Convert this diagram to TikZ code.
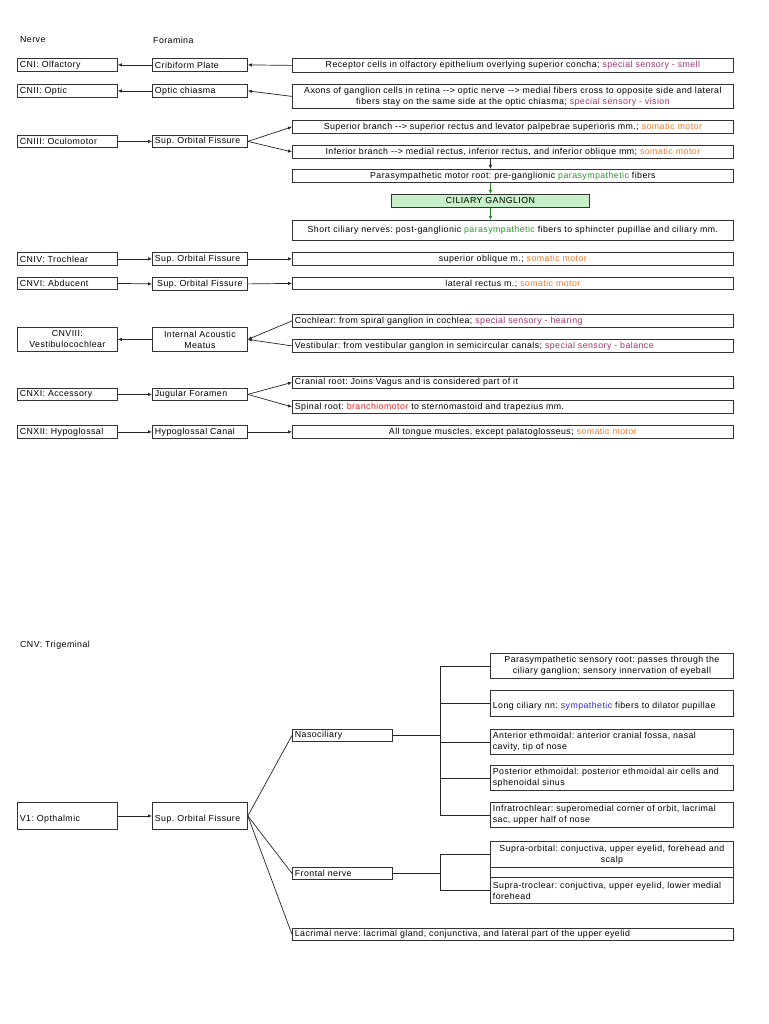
\documentclass[tikz,border=0pt]{standalone}
\usepackage{fontspec}
\setmainfont{Liberation Sans}[LetterSpace=5]
\usetikzlibrary{arrows.meta}
\definecolor{spsc}{RGB}{160,50,110}
\definecolor{somc}{RGB}{240,120,40}
\definecolor{psyc}{RGB}{40,150,40}
\definecolor{brmc}{RGB}{240,30,30}
\definecolor{symc}{RGB}{40,40,230}
\definecolor{cgfill}{RGB}{200,240,200}
\definecolor{garr}{RGB}{30,130,30}
\newcommand\sps[1]{\textcolor{spsc}{#1}}
\newcommand\som[1]{\textcolor{somc}{#1}}
\newcommand\psy[1]{\textcolor{psyc}{#1}}
\newcommand\brm[1]{\textcolor{brmc}{#1}}
\newcommand\sym[1]{\textcolor{symc}{#1}}
\newcommand\arw{-{}->}
\newcommand\bx[7]{\pgfmathsetmacro\tw{#4-5}\node[box, minimum width=#4pt, minimum height=#5pt, text width=\tw pt, align=#6] (#1) at (#2,#3) {#7};}
\tikzset{
  box/.style={draw=black!80, line width=0.8pt, inner xsep=2pt, inner ysep=0pt, anchor=north west},
  lbl/.style={inner sep=0pt, anchor=west},
  arr/.style={-{Latex[length=4pt,width=3.5pt]}, line width=0.7pt, draw=black!85},
  garrow/.style={-{Latex[length=4pt,width=3.5pt]}, line width=0.7pt, draw=garr},
  ln/.style={line width=0.7pt, draw=black!85},
}
\frenchspacing
\begin{document}
\begin{tikzpicture}[x=1pt,y=-1pt,font=\fontsize{8.8}{11}\selectfont\frenchspacing]
\useasboundingbox[fill=white] (0,0) rectangle (768,1024);
\node[lbl] (hnerve) at (20,40) {Nerve};
\node[lbl] (hfor) at (153,40) {Foramina};
% CNI
\bx{n1}{17}{58}{100}{13}{left}{CNI: Olfactory}
\bx{f1}{152}{58}{95}{13}{left}{Cribiform Plate}
\bx{r1}{292}{58}{441}{14}{center}{Receptor cells in olfactory epithelium overlying superior concha; \sps{special sensory - smell}}
% CNII
\bx{n2}{17}{84}{100}{13}{left}{CNII: Optic}
\bx{f2}{152}{84}{95}{13}{left}{Optic chiasma}
\bx{r2}{292}{84}{441}{24}{center}{Axons of ganglion cells in retina \arw{} optic nerve \arw{} medial fibers cross to opposite side and lateral\\ fibers stay on the same side at the optic chiasma; \sps{special sensory - vision}}
% CNIII
\bx{n3}{17}{135}{100}{12}{left}{CNIII: Oculomotor}
\bx{f3}{152}{135}{95}{12}{left}{Sup. Orbital Fissure}
\bx{r3a}{292}{120}{441}{13}{center}{Superior branch \arw{} superior rectus and levator palpebrae superioris mm.; \som{somatic motor}}
\bx{r3b}{292}{145}{441}{13}{center}{Inferior branch \arw{} medial rectus, inferior rectus, and inferior oblique mm; \som{somatic motor}}
\bx{r3c}{292}{169}{441}{13}{center}{Parasympathetic motor root: pre-ganglionic \psy{parasympathetic} fibers}
\node[box, fill=cgfill, minimum width=198pt, minimum height=13pt, align=center] (cg) at (391,194) {CILIARY GANGLION};
\bx{r3d}{292}{220}{441}{20}{center}{Short ciliary nerves: post-ganglionic \psy{parasympathetic} fibers to sphincter pupillae and ciliary mm.}
% CNIV
\bx{n4}{17}{252}{100}{13}{left}{CNIV: Trochlear}
\bx{f4}{152}{252}{95}{13}{left}{Sup. Orbital Fissure}
\bx{r4}{292}{252}{441}{13}{center}{superior oblique m.; \som{somatic motor}}
% CNVI
\bx{n6}{17}{277}{100}{12}{left}{CNVI: Abducent}
\bx{f6}{152}{277}{95}{13}{center}{Sup. Orbital Fissure}
\bx{r6}{292}{277}{441}{12}{center}{lateral rectus m.; \som{somatic motor}}
% CNVIII
\bx{n8}{17}{327}{100}{24}{center}{CNVIII:\\ Vestibulocochlear}
\bx{f8}{152}{327}{95}{24}{center}{Internal Acoustic\\ Meatus}
\bx{r8a}{292}{314}{441}{13}{left}{Cochlear: from spiral ganglion in cochlea; \sps{special sensory - hearing}}
\bx{r8b}{292}{339}{441}{13}{left}{Vestibular: from vestibular ganglon in semicircular canals; \sps{special sensory - balance}}
% CNXI
\bx{n11}{17}{388}{100}{12}{left}{CNXI: Accessory}
\bx{f11}{152}{388}{95}{12}{left}{Jugular Foramen}
\bx{r11a}{292}{376}{441}{12}{left}{Cranial root: Joins Vagus and is considered part of it}
\bx{r11b}{292}{400}{441}{13}{left}{Spinal root: \brm{branchiomotor} to sternomastoid and trapezius mm.}
% CNXII
\bx{n12}{17}{425}{100}{13}{left}{CNXII: Hypoglossal}
\bx{f12}{152}{425}{95}{13}{left}{Hypoglossal Canal}
\bx{r12}{292}{425}{441}{13}{center}{All tongue muscles, except palatoglosseus; \som{somatic motor}}
% connectors top
\draw[arr] (f1.west) -- (n1.east);
\draw[arr] (r1.west) -- (f1.east);
\draw[arr] (f2.west) -- (n2.east);
\draw[arr] (r2.west) -- (f2.east);
\draw[arr] (n3.east) -- (f3.west);
\draw[arr] (f3.east) -- (r3a.west);
\draw[arr] (f3.east) -- (r3b.west);
\draw[arr] (r3b.south -| cg.north) -- (r3c.north -| cg.north);
\draw[garrow] (r3c.south -| cg.north) -- (cg.north);
\draw[garrow] (cg.south) -- (r3d.north -| cg.south);
\draw[arr] (n4.east) -- (f4.west);
\draw[arr] (f4.east) -- (r4.west);
\draw[arr] (n6.east) -- (f6.west);
\draw[arr] (f6.east) -- (r6.west);
\draw[arr] (f8.west) -- (n8.east);
\draw[arr] (r8a.west) -- (f8.east);
\draw[arr] (r8b.west) -- (f8.east);
\draw[arr] (n11.east) -- (f11.west);
\draw[arr] (f11.east) -- (r11a.west);
\draw[arr] (f11.east) -- (r11b.west);
\draw[arr] (n12.east) -- (f12.west);
\draw[arr] (f12.east) -- (r12.west);
% CNV
\node[lbl] (hcnv) at (20,645) {CNV: Trigeminal};
\bx{v1}{17}{802}{100}{27}{left}{\mbox{}\\[3pt]V1: Opthalmic}
\bx{vf}{152}{802}{95}{27}{left}{\mbox{}\\[3pt]Sup. Orbital Fissure}
\bx{naso}{292}{729}{100}{12}{left}{Nasociliary}
\bx{fron}{292}{867}{100}{12}{left}{Frontal nerve}
\bx{lac}{292}{928}{441}{12}{left}{Lacrimal nerve: lacrimal gland, conjunctiva, and lateral part of the upper eyelid}
\bx{b1}{490}{653}{243}{25}{center}{Parasympathetic sensory root: passes through the\\ ciliary ganglion; sensory innervation of eyeball}
\bx{b2}{490}{690}{243}{26}{left}{\mbox{}\\[1pt]Long ciliary nn: \sym{sympathetic} fibers to dilator pupillae}
\bx{b3}{490}{729}{243}{25}{left}{Anterior ethmoidal: anterior cranial fossa, nasal\\ cavity, tip of nose}
\bx{b4}{490}{765}{243}{25}{left}{Posterior ethmoidal: posterior ethmoidal air cells and\\ sphenoidal sinus}
\bx{b5}{490}{802}{243}{25}{left}{Infratrochlear: superomedial corner of orbit, lacrimal\\ sac, upper half of nose}
\bx{so}{490}{841}{243}{26}{center}{Supra-orbital: conjuctiva, upper eyelid, forehead and\\ scalp}
\node[box, minimum width=243pt, minimum height=10pt] (blank) at (490,867) {};
\bx{st}{490}{877}{243}{26}{left}{Supra-troclear: conjuctiva, upper eyelid, lower medial\\ forehead}
\coordinate (tx) at (440,0);
\draw[arr] (v1.east) -- (vf.west);
\draw[ln] (vf.east) -- (naso.west);
\draw[ln] (vf.east) -- (fron.west);
\draw[ln] (vf.east) -- (lac.west);
\draw[ln] (naso.east) -- (naso.east -| tx);
\draw[ln] (b1.west -| tx) -- (b5.west -| tx);
\foreach \b in {b1,b2,b3,b4,b5} \draw[ln] (\b.west -| tx) -- (\b.west);
\draw[ln, line width=1.2pt] (fron.east) -- (fron.east -| tx);
\draw[ln] (so.west -| tx) -- (st.west -| tx);
\draw[ln] (so.west -| tx) -- (so.west);
\draw[ln] (st.west -| tx) -- (st.west);
\end{tikzpicture}
\end{document}
